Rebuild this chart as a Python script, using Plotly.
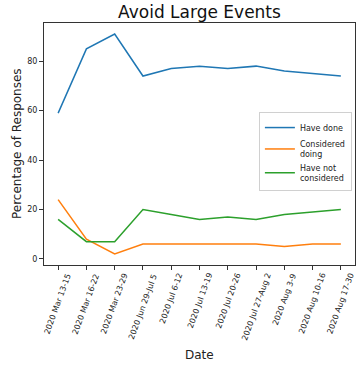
import plotly.graph_objects as go

dates = ["2020 Mar 13-15", "2020 Mar 16-22", "2020 Mar 23-29", "2020 Jun 29-Jul 5",
         "2020 Jul 6-12", "2020 Jul 13-19", "2020 Jul 20-26", "2020 Jul 27-Aug 2",
         "2020 Aug 3-9", "2020 Aug 10-16", "2020 Aug 17-30"]
have_done = [59, 85, 91, 74, 77, 78, 77, 78, 76, 75, 74]
considered_doing = [24, 8, 2, 6, 6, 6, 6, 6, 5, 6, 6]
have_not_considered = [16, 7, 7, 20, 18, 16, 17, 16, 18, 19, 20]
y_ticks = [0, 20, 40, 60, 80]

series = [
    ("Have done", have_done, "#1f77b4"),
    ("Considered<br>doing", considered_doing, "#ff7f0e"),
    ("Have not<br>considered", have_not_considered, "#2ca02c"),
]

FONT = "DejaVu Sans"
x_idx = list(range(len(dates)))

fig = go.Figure()
for name, vals, color in series:
    fig.add_trace(go.Scatter(x=x_idx, y=vals, mode="lines", name=name,
                             line=dict(color=color, width=1.5)))

annotations = []
for i, lab in enumerate(dates):
    annotations.append(dict(x=i, y=0, xref="x", yref="paper", text=lab,
                            showarrow=False, textangle=-70, xanchor="center",
                            yanchor="top", yshift=-6, borderpad=0,
                            font=dict(family=FONT, size=8, color="#222")))
annotations.append(dict(x=0.5, y=0, xref="paper", yref="paper", text="Date",
                        showarrow=False, xanchor="center", yanchor="middle",
                        yshift=-90, font=dict(family=FONT, size=12, color="#222")))
annotations.append(dict(x=0, y=0.5, xref="paper", yref="paper",
                        text="Percentage of Responses", showarrow=False,
                        textangle=-90, xanchor="center", yanchor="middle",
                        xshift=-27, font=dict(family=FONT, size=12, color="#222")))

axis_common = dict(showline=True, linecolor="#333", linewidth=1, mirror=True,
                   showgrid=False, zeroline=False, ticks="outside", ticklen=4,
                   tickcolor="#333", tickwidth=1)

fig.update_layout(
    width=357, height=368,
    margin=dict(l=44, r=2, t=23, b=103),
    paper_bgcolor="white", plot_bgcolor="white",
    font=dict(family=FONT, size=8, color="#222"),
    title=dict(text="Avoid Large Events", x=0.5, xref="paper", xanchor="center",
               y=1 - 12 / 368, yref="container", yanchor="middle",
               font=dict(family=FONT, size=17, color="#111")),
    xaxis=dict(range=[-0.5, 10.5], tickmode="array", tickvals=x_idx,
               showticklabels=False, **axis_common),
    yaxis=dict(range=[-2.45, 95.45], tickmode="array", tickvals=y_ticks,
               ticktext=[str(v) for v in y_ticks],
               tickfont=dict(family=FONT, size=8, color="#222"), **axis_common),
    legend=dict(x=0.99, y=0.632, xanchor="right", yanchor="top",
                bgcolor="rgba(255,255,255,0.8)", bordercolor="#d0d0d0",
                borderwidth=1, itemwidth=30,
                font=dict(family=FONT, size=8, color="#222")),
    annotations=annotations,
    showlegend=True,
)

fig.write_html("out.html",
               config={"displayModeBar": False},
               post_script="document.body.style.margin='0';document.body.style.padding='0';")
